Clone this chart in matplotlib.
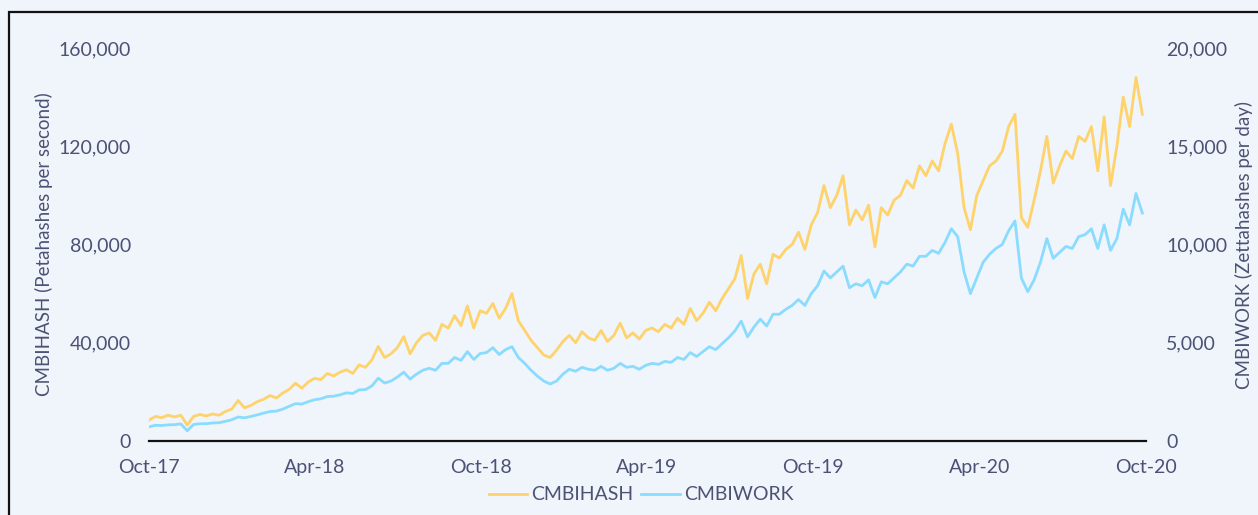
import numpy as np
import pandas as pd
import matplotlib
matplotlib.use('agg')
import matplotlib.pyplot as plt
import matplotlib.dates as mdates
from matplotlib.patches import Rectangle
from matplotlib.ticker import FuncFormatter

plt.rcParams['font.family'] = ['Lato', 'DejaVu Sans']

# weekly samples, Oct-2017 .. Sep-2020
dates = pd.date_range('2017-10-01', periods=157, freq='7D')

# CMBIHASH, thousands of PH/s
hash_k = [
    8.5, 10.0, 9.5, 10.5, 9.8,
    10.5, 6.5, 10.0, 10.8,
    10.2, 11.0, 10.5, 12.0, 13.0,
    16.5, 13.5, 14.5, 16.0,
    17.0, 18.5, 17.5, 19.5,
    21.0, 23.5, 21.5, 24.0,
    25.5, 25.0, 27.5, 26.5, 28.0,
    29.0, 27.5, 31.0, 30.0,
    33.0, 38.5, 34.0, 35.5,
    38.0, 42.5, 35.5, 40.0, 43.0,
    44.0, 41.0, 47.5, 46.0,
    51.0, 47.0, 55.0, 46.0, 53.0,
    52.0, 56.0, 50.0, 54.0,
    60.0, 49.0, 45.0, 41.0,
    38.0, 35.0, 34.0, 37.0, 40.5,
    43.0, 40.0, 44.5, 42.0,
    41.0, 45.0, 40.5, 43.0,
    48.0, 42.0, 44.0, 41.5, 45.0,
    46.0, 44.5, 47.5, 46.0,
    50.0, 47.5, 54.0, 49.0,
    52.0, 56.5, 53.0, 58.0, 62.0,
    66.0, 75.5, 58.0, 68.0,
    72.0, 64.0, 76.0, 74.5,
    78.0, 80.0, 85.0, 78.0, 88.0,
    93.0, 104.0, 95.0, 100.0,
    108.0, 88.0, 94.0, 90.0,
    96.0, 79.0, 95.0, 92.0, 98.0,
    100.0, 106.0, 103.0, 112.0,
    108.0, 114.0, 110.0, 121.0,
    129.0, 117.0, 95.0, 86.0, 100.0,
    106.0, 112.0, 114.0, 118.0,
    128.0, 133.0, 91.0, 87.0, 98.0,
    110.0, 124.0, 105.0, 112.0,
    118.0, 115.0, 124.0, 122.0,
    128.0, 110.0, 132.0, 104.0, 120.0,
    140.0, 128.0, 148.0, 133.0,
]

# CMBIWORK, ZH per day
work = [
    720, 800, 790, 820, 830,
    870, 520, 840, 880,
    880, 920, 930, 1000, 1080,
    1220, 1180, 1250, 1330,
    1420, 1500, 1520, 1620,
    1760, 1900, 1880, 2000,
    2100, 2150, 2260, 2280, 2350,
    2450, 2420, 2600, 2620,
    2800, 3200, 2950, 3050,
    3250, 3500, 3150, 3400, 3600,
    3700, 3600, 3950, 3950,
    4250, 4100, 4550, 4150, 4450,
    4500, 4750, 4400, 4650,
    4800, 4250, 3950, 3600,
    3300, 3050, 2900, 3050, 3400,
    3650, 3550, 3750, 3650,
    3600, 3800, 3600, 3700,
    3950, 3750, 3800, 3650, 3850,
    3950, 3900, 4050, 4000,
    4250, 4150, 4500, 4300,
    4550, 4800, 4650, 4950, 5250,
    5600, 6100, 5300, 5800,
    6200, 5850, 6450, 6450,
    6700, 6900, 7200, 6900, 7500,
    7900, 8650, 8300, 8600,
    8900, 7800, 8000, 7900,
    8200, 7300, 8100, 8000, 8300,
    8600, 9000, 8900, 9400,
    9400, 9700, 9550, 10100,
    10800, 10400, 8600, 7500, 8300,
    9100, 9500, 9800, 10000,
    10700, 11200, 8300, 7600, 8200,
    9100, 10300, 9300, 9600,
    9900, 9800, 10400, 10500,
    10800, 9800, 11000, 9700, 10300,
    11800, 11000, 12600, 11600,
]

hash_vals = np.array(hash_k) * 1000

bg = '#f0f4fb'
txt = '#4d5275'
yellow = '#ffd36b'
blue = '#8adcff'

fig = plt.figure(figsize=(12.58, 5.15), dpi=100, facecolor=bg)
fig.patches.append(Rectangle((9 / 1258, -0.1), 1.2, 1 - 12 / 515 + 0.1,
                             transform=fig.transFigure, fill=False,
                             edgecolor='#111111', lw=1.6))

ax = fig.add_axes([149 / 1258, 1 - 441 / 515, 997 / 1258, 393 / 515])
ax.set_facecolor(bg)
ax2 = ax.twinx()

l1, = ax.plot(dates, hash_vals, color=yellow, lw=2.0, label='CMBIHASH')
l2, = ax2.plot(dates, work, color=blue, lw=2.0, label='CMBIWORK')

ax.set_xlim(pd.Timestamp('2017-10-01'), pd.Timestamp('2020-10-01'))
ax.set_ylim(0, 160000)
ax2.set_ylim(0, 20000)
ax.set_yticks([0, 40000, 80000, 120000, 160000])
ax2.set_yticks([0, 5000, 10000, 15000, 20000])
fmt = FuncFormatter(lambda v, p: f'{int(v):,}')
ax.yaxis.set_major_formatter(fmt)
ax2.yaxis.set_major_formatter(fmt)

ax.xaxis.set_major_locator(mdates.MonthLocator(bymonth=[4, 10]))
ax.xaxis.set_major_formatter(mdates.DateFormatter('%b-%y'))

for a in (ax, ax2):
    for s in a.spines.values():
        s.set_visible(False)
    a.tick_params(length=0, labelsize=14, colors=txt)
ax.spines['bottom'].set_visible(True)
ax.spines['bottom'].set_color('#111111')
ax.spines['bottom'].set_linewidth(1.6)
ax.tick_params(axis='y', pad=13)
ax2.tick_params(axis='y', pad=14.5)
ax.tick_params(axis='x', pad=13)

ax.set_ylabel('CMBIHASH (Petahashes per second)', fontsize=13.5, color=txt)
ax2.set_ylabel('CMBIWORK (Zettahashes per day)', fontsize=13.5, color=txt)
ax.yaxis.set_label_coords(-0.096, 0.5)
ax2.yaxis.set_label_coords(1.089, 0.5)

fig.legend([l1, l2], ['CMBIHASH', 'CMBIWORK'], loc='center', bbox_to_anchor=(641 / 1258, 1 - 495 / 515),
           ncol=2, frameon=False, fontsize=14, labelcolor=txt, handlelength=2.0,
           handletextpad=0.2, columnspacing=0.4)

fig.savefig('out.png', dpi=100, facecolor=bg)
